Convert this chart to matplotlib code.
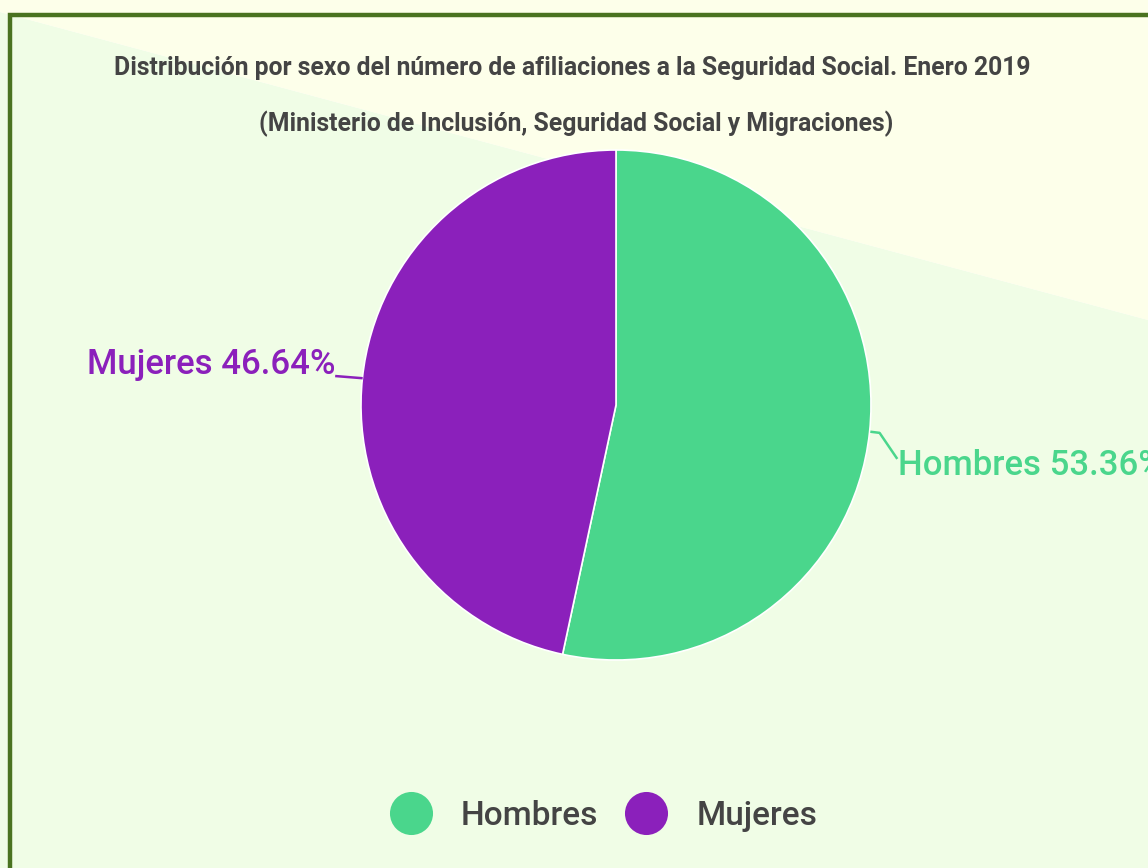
import numpy as np
import matplotlib.pyplot as plt
from matplotlib.lines import Line2D
from matplotlib.patches import Polygon

# datos
categorias = ['Hombres', 'Mujeres']
porcentajes = [53.36, 46.64]
colores = ['#4ad68c', '#8b20bb']
titulo = 'Distribución por sexo del número de afiliaciones a la Seguridad Social. Enero 2019'
subtitulo = '(Ministerio de Inclusión, Seguridad Social y Migraciones)'

plt.rcParams['font.family'] = ['Roboto', 'DejaVu Sans']

W, H = 1148, 868
fig = plt.figure(figsize=(W / 100, H / 100), dpi=100)
ax = fig.add_axes([0, 0, 1, 1])
ax.set_xlim(0, W)
ax.set_ylim(0, H)
ax.set_aspect('equal')
ax.axis('off')

# fondo en diagonal
ax.add_patch(Polygon([[0, 0], [W, 0], [W, H - 320], [0, H - 12]], closed=True,
                     facecolor='#f0fde6', edgecolor='none', zorder=0))
ax.add_patch(Polygon([[0, H - 12], [W, H - 320], [W, H], [0, H]], closed=True,
                     facecolor='#fdffea', edgecolor='none', zorder=0))
# borde
ax.plot([10, 10, W], [0, H - 15, H - 15], color='#4a7320', lw=3.2,
        solid_joinstyle='miter', zorder=1)

cx, cy, r = 616, H - 405, 255
wedges, _ = ax.pie(porcentajes, colors=colores, startangle=90, counterclock=False,
                   center=(cx, cy), radius=r,
                   wedgeprops=dict(edgecolor='white', linewidth=1.2), frame=True)
ax.set_xlim(0, W)
ax.set_ylim(0, H)
ax.axis('off')

for w, nom, p, c in zip(wedges, categorias, porcentajes, colores):
    ang = np.deg2rad((w.theta1 + w.theta2) / 2)
    x0, y0 = cx + r * np.cos(ang), cy + r * np.sin(ang)
    txt = f'{nom} {p:.2f}%'
    if np.cos(ang) >= 0:
        xs = [x0 + 2, x0 + 10, x0 + 27]
        ys = [y0, y0 - 1, y0 - 26]
        ax.plot(xs, ys, color=c, lw=1.8, zorder=3)
        ax.text(xs[-1] + 1, ys[-1] - 8, txt, color=c, fontsize=25, fontweight='medium',
                ha='left', va='center', zorder=3)
    else:
        xs = [x0 - 1, x0 - 26]
        ys = [y0, y0 + 2]
        ax.plot(xs, ys, color=c, lw=1.8, zorder=3)
        ax.text(xs[-1] - 1, ys[-1] + 12, txt, color=c, fontsize=25, fontweight='medium',
                ha='right', va='center', zorder=3)

fig.text(572 / W, 1 - 68 / H, titulo, ha='center', va='center', fontsize=17.8,
         fontweight='bold', color='#444444')
fig.text(576 / W, 1 - 124 / H, subtitulo, ha='center', va='center', fontsize=17.8,
         fontweight='bold', color='#444444')

handles = [Line2D([], [], marker='o', ls='none', markersize=31, markerfacecolor=c,
                  markeredgecolor='none') for c in colores]
leg = fig.legend(handles, categorias, loc='center', bbox_to_anchor=(604 / W, 1 - 816 / H),
                 ncol=2, frameon=False, fontsize=24, handletextpad=0.9,
                 columnspacing=0.85, handlelength=1.2,
                 prop=dict(family=['Roboto', 'DejaVu Sans'], size=24, weight='medium'))
for t in leg.get_texts():
    t.set_color('#444444')

fig.savefig('out.png', dpi=100)
